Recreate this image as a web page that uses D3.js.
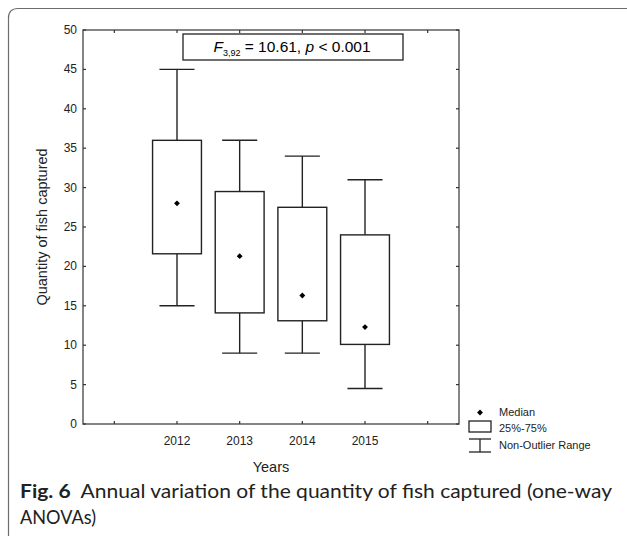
<!DOCTYPE html>
<html>
<head>
<meta charset="utf-8">
<script src="https://cdn.jsdelivr.net/npm/d3@7"></script>
<style>
  html, body { margin: 0; padding: 0; background: #fff; }
  svg { display: block; }
</style>
</head>
<body>
<div id="chart"></div>
<script>
// Annual quantity of fish captured: box plot per year
const years   = ["2012", "2013", "2014", "2015"];
const whiskerMin = [15, 9, 9, 4.5];
const q1         = [21.6, 14.1, 13.1, 10.1];
const median     = [28, 21.3, 16.3, 12.3];
const q3         = [36, 29.5, 27.5, 24];
const whiskerMax = [45, 36, 34, 31];
const yTicks     = [0, 5, 10, 15, 20, 25, 30, 35, 40, 45, 50];
const legendItems = ["Median", "25%-75%", "Non-Outlier Range"];

const W = 627, H = 536;
const plot = { left: 83, top: 30, right: 459, bottom: 424 };

const svg = d3.select("#chart").append("svg")
  .attr("width", W).attr("height", H);

// Card frame around the figure
svg.append("path")
  .attr("d", `M8.5,${H + 2} L8.5,18 Q8.5,8.5 18,8.5 L${W + 2},8.5`)
  .attr("fill", "none").attr("stroke", "#6d6d6d").attr("stroke-width", 1.2);

// Slots: an empty slot either side of the four years
const slots = ["pad0", ...years, "pad1"];
const x = d3.scaleBand().domain(slots).range([plot.left, plot.right]).padding(0);
const y = d3.scaleLinear().domain([0, 50]).range([plot.bottom, plot.top]);
const bw = x.bandwidth();
const boxW = bw * 0.78, capW = bw * 0.56;

const font = "'Liberation Sans', Arial, sans-serif";
const ink = "#222";

// Plot frame
svg.append("rect")
  .attr("x", plot.left).attr("y", plot.top)
  .attr("width", plot.right - plot.left).attr("height", plot.bottom - plot.top)
  .attr("fill", "none").attr("stroke", "#444").attr("stroke-width", 1.3);

// Axes with short inward ticks on all four sides
const tickLen = 3;
const xTickPos = slots.map(s => x(s) + bw / 2);
const g = svg.append("g").attr("stroke", "#333").attr("stroke-width", 1.2);
xTickPos.forEach(px => {
  g.append("line").attr("x1", px).attr("x2", px).attr("y1", plot.bottom).attr("y2", plot.bottom - tickLen);
  g.append("line").attr("x1", px).attr("x2", px).attr("y1", plot.top).attr("y2", plot.top + tickLen);
});
yTicks.forEach(v => {
  g.append("line").attr("x1", plot.left).attr("x2", plot.left + tickLen).attr("y1", y(v)).attr("y2", y(v));
  g.append("line").attr("x1", plot.right).attr("x2", plot.right - tickLen).attr("y1", y(v)).attr("y2", y(v));
});

// Y tick labels
svg.append("g").selectAll("text").data(yTicks).join("text")
  .attr("x", plot.left - 6).attr("y", d => y(d) + 4)
  .attr("text-anchor", "end")
  .attr("font-family", font).attr("font-size", 12).attr("fill", ink)
  .text(d => d);

// X tick labels
svg.append("g").selectAll("text").data(years).join("text")
  .attr("x", d => x(d) + bw / 2).attr("y", plot.bottom + 21)
  .attr("text-anchor", "middle")
  .attr("font-family", font).attr("font-size", 12).attr("fill", ink)
  .text(d => d);

// Axis titles
svg.append("text")
  .attr("transform", `translate(47,${(plot.top + plot.bottom) / 2}) rotate(-90)`)
  .attr("text-anchor", "middle")
  .attr("font-family", font).attr("font-size", 14.5).attr("fill", ink)
  .text("Quantity of fish captured");
svg.append("text")
  .attr("x", x("2013") + bw).attr("y", plot.bottom + 48)
  .attr("text-anchor", "middle")
  .attr("font-family", font).attr("font-size", 14.5).attr("fill", ink)
  .text("Years");

// Boxes and whiskers
const data = years.map((yr, i) => ({
  yr, lo: whiskerMin[i], q1: q1[i], med: median[i], q3: q3[i], hi: whiskerMax[i]
}));
const bx = svg.append("g").attr("stroke", ink).attr("stroke-width", 1.4).attr("fill", "none");
data.forEach(d => {
  const cx = x(d.yr) + bw / 2;
  bx.append("line").attr("x1", cx).attr("x2", cx).attr("y1", y(d.q3)).attr("y2", y(d.hi));
  bx.append("line").attr("x1", cx).attr("x2", cx).attr("y1", y(d.q1)).attr("y2", y(d.lo));
  bx.append("line").attr("x1", cx - capW / 2).attr("x2", cx + capW / 2).attr("y1", y(d.hi)).attr("y2", y(d.hi));
  bx.append("line").attr("x1", cx - capW / 2).attr("x2", cx + capW / 2).attr("y1", y(d.lo)).attr("y2", y(d.lo));
  bx.append("rect")
    .attr("x", cx - boxW / 2).attr("y", y(d.q3))
    .attr("width", boxW).attr("height", y(d.q1) - y(d.q3))
    .attr("fill", "#fff");
});
const diamond = d3.symbol().type(d3.symbolDiamond2).size(22);
svg.append("g").selectAll("path").data(data).join("path")
  .attr("transform", d => `translate(${x(d.yr) + bw / 2},${y(d.med)})`)
  .attr("d", diamond).attr("fill", "#000");

// Test statistic box
const stat = svg.append("g");
stat.append("rect")
  .attr("x", 183).attr("y", 34).attr("width", 220).attr("height", 26)
  .attr("fill", "#fff").attr("stroke", ink).attr("stroke-width", 1.3);
const st = stat.append("text")
  .attr("x", 292).attr("y", 52).attr("text-anchor", "middle")
  .attr("font-family", font).attr("font-size", 15.5).attr("fill", "#000");
st.append("tspan").attr("font-style", "italic").text("F");
st.append("tspan").attr("font-size", 9).attr("dy", 4).text("3,92");
st.append("tspan").attr("dy", -4).text(" = 10.61, ");
st.append("tspan").attr("font-style", "italic").text("p");
st.append("tspan").text(" < 0.001");

// Legend
const lg = svg.append("g").attr("font-family", font).attr("font-size", 11).attr("fill", ink);
const lx = 480, ly = [416, 432, 449];
lg.append("path").attr("transform", `translate(${lx},${ly[0] - 3.5})`).attr("d", diamond).attr("fill", "#000");
lg.append("rect").attr("x", lx - 11).attr("y", ly[1] - 11).attr("width", 22).attr("height", 11)
  .attr("fill", "#fff").attr("stroke", ink).attr("stroke-width", 1.3);
const wl = lg.append("g").attr("stroke", ink).attr("stroke-width", 1.3);
wl.append("line").attr("x1", lx - 11).attr("x2", lx + 11).attr("y1", ly[2] - 10).attr("y2", ly[2] - 10);
wl.append("line").attr("x1", lx - 11).attr("x2", lx + 11).attr("y1", ly[2] + 3).attr("y2", ly[2] + 3);
wl.append("line").attr("x1", lx).attr("x2", lx).attr("y1", ly[2] - 10).attr("y2", ly[2] + 3);
lg.selectAll("text.item").data(legendItems).join("text")
  .attr("class", "item")
  .attr("x", 499).attr("y", (d, i) => ly[i])
  .text(d => d);

// Caption
const cap = svg.append("g").attr("font-family", "Lato, 'Open Sans', sans-serif").attr("fill", "#222");
const c1 = cap.append("text").attr("x", 20).attr("y", 498).attr("font-size", 19)
  .attr("textLength", 592).attr("lengthAdjust", "spacingAndGlyphs");
c1.append("tspan").attr("font-weight", "bold").text("Fig. 6");
c1.append("tspan").attr("dx", 9).text("Annual variation of the quantity of fish captured (one-way");
cap.append("text").attr("x", 20).attr("y", 524).attr("font-size", 19)
  .attr("textLength", 76).attr("lengthAdjust", "spacingAndGlyphs")
  .text("ANOVAs)");
</script>
</body>
</html>
